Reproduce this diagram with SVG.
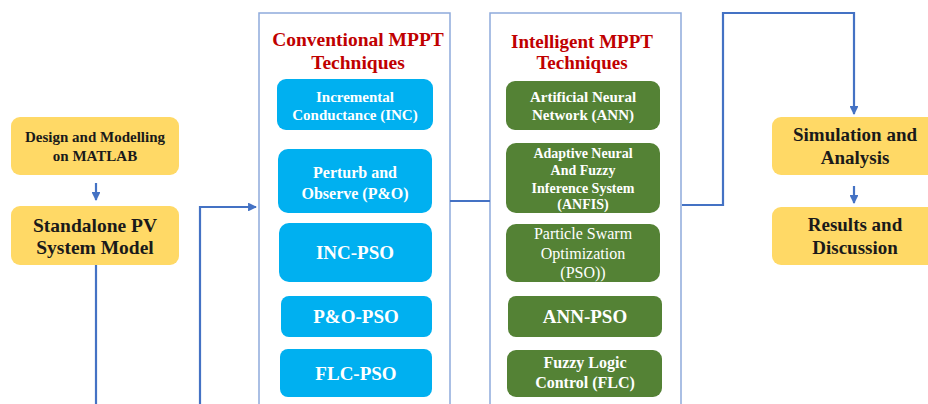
<svg xmlns="http://www.w3.org/2000/svg" width="928" height="404" viewBox="0 0 928 404">
<defs>
<style>
.t{font-family:'Liberation Serif','Times New Roman',Tinos,'DejaVu Serif',serif;font-weight:700;text-anchor:middle}
.n{font-weight:400}
.y{fill:#ffd966}
.b{fill:#00b0f0}
.g{fill:#548235}
.dk{fill:#1a1a1a}
.wt{fill:#ffffff}
.red{fill:#c00000}
.cont{fill:#ffffff;stroke:#8eaadb;stroke-width:1.5}
.ln{fill:none;stroke:#4472c4;stroke-width:2.2}
</style>
<marker id="ah" viewBox="0 0 10 10" refX="9" refY="5" markerWidth="4" markerHeight="4" orient="auto"><path d="M0,0 L10,5 L0,10 z" fill="#4472c4"/></marker>
</defs>
<rect width="928" height="404" fill="#ffffff"/>
<g id="conventional">
<rect class="cont" x="259" y="13" width="191" height="400"/>
<text class="t red" x="358" y="46" font-size="19.5">Conventional MPPT</text>
<text class="t red" x="358" y="69" font-size="19.5">Techniques</text>
</g>
<g id="intelligent">
<rect class="cont" x="490" y="13" width="191" height="400"/>
<text class="t red" x="582" y="48" font-size="19">Intelligent MPPT</text>
<text class="t red" x="582" y="69" font-size="19">Techniques</text>
</g>
<g id="connectors">
<line class="ln" x1="96" y1="183" x2="96" y2="200" marker-end="url(#ah)"/>
<line class="ln" x1="96" y1="265" x2="96" y2="406"/>
<polyline class="ln" points="200,406 200,207 256,207" marker-end="url(#ah)"/>
<line class="ln" x1="450" y1="201" x2="490" y2="201"/>
<polyline class="ln" points="682,205 723,205 723,13 854,13 854,114" marker-end="url(#ah)"/>
<line class="ln" x1="854" y1="186" x2="854" y2="203" marker-end="url(#ah)"/>
</g>
<g id="design">
<rect class="y" x="11" y="117" width="168" height="58" rx="9"/>
<text class="t dk" x="95" y="142" font-size="15">Design and Modelling</text>
<text class="t dk" x="95" y="161" font-size="15">on MATLAB</text>
</g>
<g id="standalone">
<rect class="y" x="11" y="206" width="168" height="59" rx="9"/>
<text class="t dk" x="95" y="232" font-size="19.5">Standalone PV</text>
<text class="t dk" x="95" y="254" font-size="19.5">System Model</text>
</g>
<g id="inc">
<rect class="b" x="277" y="79" width="156" height="51" rx="9"/>
<text class="t wt" x="355" y="102" font-size="15">Incremental</text>
<text class="t wt" x="355" y="120" font-size="15">Conductance (INC)</text>
</g>
<g id="po">
<rect class="b" x="278" y="149" width="154" height="64" rx="10"/>
<text class="t wt" x="355" y="178" font-size="16">Perturb and</text>
<text class="t wt" x="355" y="199" font-size="16">Observe (P&amp;O)</text>
</g>
<g id="incpso">
<rect class="b" x="279" y="223" width="153" height="59" rx="10"/>
<text class="t wt" x="355" y="259" font-size="19">INC-PSO</text>
</g>
<g id="popso">
<rect class="b" x="281" y="296" width="151" height="41" rx="8"/>
<text class="t wt" x="356" y="323" font-size="19">P&amp;O-PSO</text>
</g>
<g id="flcpso">
<rect class="b" x="280" y="349" width="152" height="48" rx="8"/>
<text class="t wt" x="356" y="380" font-size="19">FLC-PSO</text>
</g>
<g id="ann">
<rect class="g" x="506" y="81" width="154" height="49" rx="9"/>
<text class="t wt" x="583" y="102" font-size="15">Artificial Neural</text>
<text class="t wt" x="583" y="120" font-size="15">Network (ANN)</text>
</g>
<g id="anfis">
<rect class="g" x="506" y="143" width="154" height="70" rx="10"/>
<text class="t wt" x="583" y="158" font-size="14">Adaptive Neural</text>
<text class="t wt" x="583" y="175" font-size="14">And Fuzzy</text>
<text class="t wt" x="583" y="193" font-size="14">Inference System</text>
<text class="t wt" x="583" y="209" font-size="14">(ANFIS)</text>
</g>
<g id="pso">
<rect class="g" x="506" y="224" width="154" height="58" rx="10"/>
<text class="t n wt" x="583" y="239" font-size="16">Particle Swarm</text>
<text class="t n wt" x="583" y="259" font-size="16">Optimization</text>
<text class="t n wt" x="583" y="278" font-size="16">(PSO))</text>
</g>
<g id="annpso">
<rect class="g" x="508" y="296" width="154" height="41" rx="8"/>
<text class="t wt" x="585" y="323" font-size="19">ANN-PSO</text>
</g>
<g id="flc">
<rect class="g" x="507" y="350" width="155" height="47" rx="9"/>
<text class="t wt" x="585" y="368" font-size="16">Fuzzy Logic</text>
<text class="t wt" x="585" y="388" font-size="16">Control (FLC)</text>
</g>
<g id="simulation">
<rect class="y" x="772" y="117" width="170" height="58" rx="9"/>
<text class="t dk" x="855" y="141" font-size="19">Simulation and</text>
<text class="t dk" x="855" y="164" font-size="19">Analysis</text>
</g>
<g id="results">
<rect class="y" x="772" y="207" width="170" height="58" rx="9"/>
<text class="t dk" x="855" y="231" font-size="19">Results and</text>
<text class="t dk" x="855" y="254" font-size="19">Discussion</text>
</g>
</svg>
